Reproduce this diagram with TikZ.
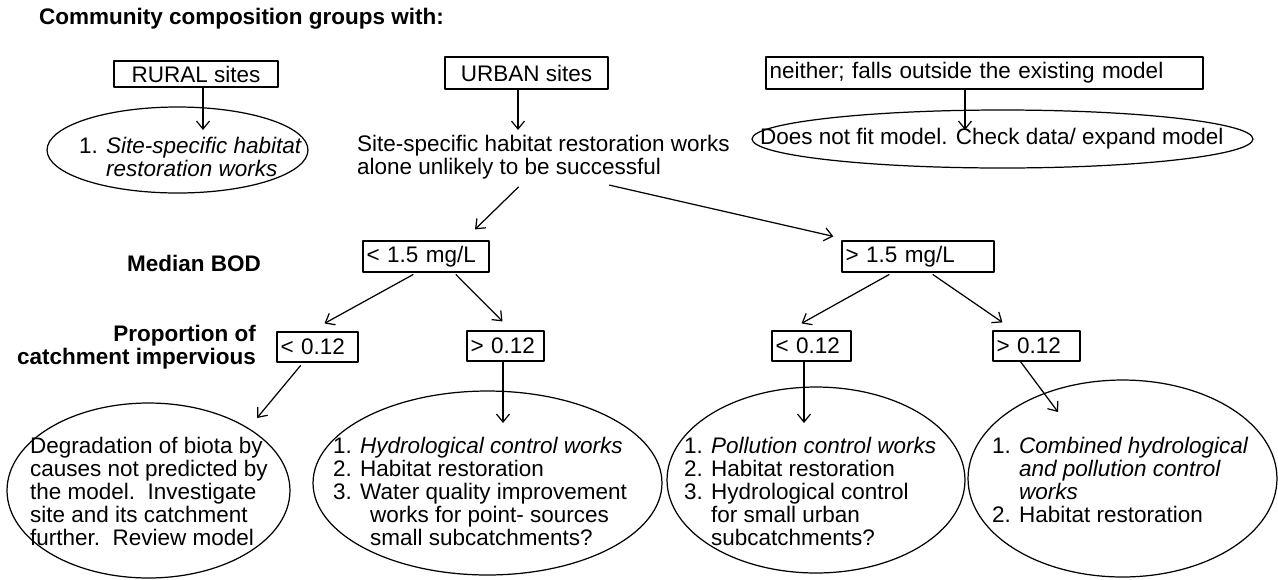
\documentclass[tikz,border=0pt]{standalone}
\usepackage{fontspec}
\setmainfont{Liberation Sans}
\usetikzlibrary{shapes.geometric,arrows.meta}

\newcommand\txtsize{\fontsize{12.8}{13.1}\selectfont}

\tikzset{
  box/.style={draw,line width=0.7pt,inner xsep=2pt,inner ysep=0pt,align=left},
  oval/.style={draw,ellipse,line width=0.7pt,inner sep=0pt},
  lbl/.style={font=\txtsize\bfseries,align=right},
  arr/.style={line width=0.7pt,-{Straight Barb[length=1.6mm,width=2.6mm]}}
}

\begin{document}
\begin{tikzpicture}[x=0.02cm,y=-0.02cm,line cap=round,line join=round,
  every node/.style={inner sep=1pt},font=\txtsize]
  \useasboundingbox (0,0) rectangle (1278,579);
  % headings on the left
  \node[lbl,anchor=west] (title) at (37,19) {Community composition groups with:};
  \node[lbl,anchor=east] (bod) at (263,263) {Median BOD};
  \node[lbl,anchor=east] (imperv) at (258,347) {Proportion of\\catchment impervious};
  % top row
  \node[box,align=center,minimum width=3.28cm,minimum height=0.52cm] (rural) at (196,74) {RURAL sites};
  \node[box,align=center,minimum width=3.26cm,minimum height=0.64cm] (urban) at (526.5,73) {URBAN sites};
  \node[box,text width=8.60cm,minimum height=0.64cm] (neither) at (984.5,73) {neither; falls outside the existing model};
  \node[oval,minimum width=5.22cm,minimum height=1.72cm] (ovalRural) at (177.5,150) {};
  \node[oval,minimum width=10.02cm,minimum height=1.16cm] (ovalNeither) at (1002.5,139) {};
  \node[anchor=west,align=left] (txtRural) at (77,157) {1. \textit{Site-specific habitat}\\\hphantom{1. }\textit{restoration works}};
  \node[anchor=west,align=left] (txtUrban) at (355,157) {Site-specific habitat restoration works\\alone unlikely to be successful};
  \node[anchor=west] (txtNeither) at (758,139) {Does not fit model. Check data/ expand model};
  % BOD split
  \node[box,text width=2.38cm,minimum height=0.62cm] (bodLow) at (426,256.5) {< 1.5 mg/L};
  \node[box,text width=2.90cm,minimum height=0.62cm] (bodHigh) at (918,256.5) {> 1.5 mg/L};
  % impervious split
  \node[box,text width=1.48cm,minimum height=0.60cm] (impLowL) at (317.5,347) {< 0.12};
  \node[box,text width=1.40cm,minimum height=0.60cm] (impHighL) at (505.5,346) {> 0.12};
  \node[box,text width=1.44cm,minimum height=0.60cm] (impLowR) at (811.5,346) {< 0.12};
  \node[box,text width=1.60cm,minimum height=0.60cm] (impHighR) at (1036.5,346) {> 0.12};
  % outcomes
  \foreach \n/\x/\y/\w/\h in {1/148.5/490.5/5.66/3.50,2/487.5/483/6.98/3.68,
                              3/816/480/5.96/3.72,4/1122.5/478.5/6.18/3.94} {
    \node[oval,minimum width=\w cm,minimum height=\h cm] (oval\n) at (\x,\y) {};
  }
  \node[anchor=west,align=left] (txt1) at (28,491) {Degradation of biota by\\causes not predicted by\\the model.\ \ Investigate\\site and its catchment\\further.\ \ Review model};
  \node[anchor=west,align=left] (txt2) at (331,491) {1. \textit{Hydrological control works}\\2. Habitat restoration\\3. Water quality improvement\\\hspace*{0.74cm}works for point- sources\\\hspace*{0.74cm}small subcatchments?};
  \node[anchor=west,align=left] (txt3) at (682,491) {1. \textit{Pollution control works}\\2. Habitat restoration\\3. Hydrological control\\\hphantom{3. }for small urban\\\hphantom{3. }subcatchments?};
  \node[anchor=west,align=left] (txt4) at (990,480) {1. \textit{Combined hydrological}\\\hphantom{1. }\textit{and pollution control}\\\hphantom{1. }\textit{works}\\2. Habitat restoration};
  % arrow tips inside the ovals
  \coordinate (rurTip) at (203,130);
  \coordinate (urbTip) at (518,130);
  \coordinate (nTip) at (965,130);
  \coordinate (e1Tip) at (257,418);
  \coordinate (e2Tip) at (503,423);
  \coordinate (e3Tip) at (804,423);
  \coordinate (e4Tip) at (1058,412);
  \draw[arr] (rural.south -| rurTip) -- (rurTip);
  \draw[arr] (urban.south -| urbTip) -- (urbTip);
  \draw[arr] (neither.south -| nTip) -- (nTip);
  \draw[arr] ([shift={(-25,6)}]txtUrban.south) -- ([shift={(49,-11)}]bodLow.north);
  \draw[arr] ([shift={(66,4)}]txtUrban.south) -- ([shift={(-8,-4)}]bodHigh.north west);
  \draw[arr] ([shift={(-13,2)}]bodLow.south) -- ([shift={(7,-8)}]impLowL.north);
  \draw[arr] ([shift={(30,2)}]bodLow.south) -- ([shift={(-3,-9)}]impHighL.north);
  \draw[arr] ([shift={(-29,2)}]bodHigh.south) -- ([shift={(-10,-7)}]impLowR.north);
  \draw[arr] ([shift={(15,2)}]bodHigh.south) -- ([shift={(-34,-8)}]impHighR.north);
  \draw[arr] ([shift={(-17,3)}]impLowL.south) -- (e1Tip);
  \draw[arr] (impHighL.south -| e2Tip) -- (e2Tip);
  \draw[arr] (impLowR.south -| e3Tip) -- (e3Tip);
  \draw[arr] ([shift={(-16,0)}]impHighR.south) -- (e4Tip);
\end{tikzpicture}
\end{document}
